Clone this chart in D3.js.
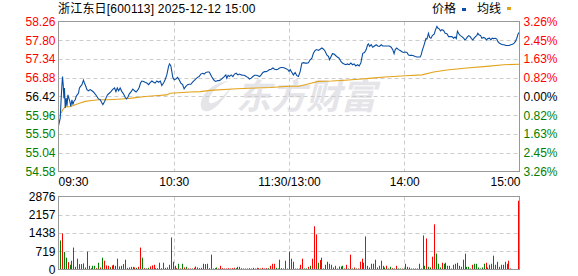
<!DOCTYPE html>
<html><head><meta charset="utf-8">
<script src="https://cdn.jsdelivr.net/npm/d3@7"></script>
<style>
html,body{margin:0;padding:0;background:#fff;}
svg{display:block;font-family:"Liberation Sans",Arial,"Noto Sans CJK SC",sans-serif;font-size:12px;}
</style>
</head><body>
<svg id="c" width="578" height="276"></svg>
<script>
const titleText = "浙江东日[600113] 2025-12-12 15:00";
const legendNames = ["价格", "均线"];
const watermarkText = "东方财富";
const prevClose = 56.42;
const priceTicks = [58.26, 57.80, 57.34, 56.88, 56.42, 55.96, 55.50, 55.04, 54.58];
const pctTicks = ["3.26%", "2.45%", "1.63%", "0.82%", "0.00%", "0.82%", "1.63%", "2.45%", "3.26%"];
const volTicks = [2876, 2157, 1438, 719, 0];
const timeTicks = [0, 60, 120, 180, 240];
const timeLabels = ["09:30", "10:30", "11:30/13:00", "14:00", "15:00"];

// minute offsets from 09:30 (trading minutes) and prices
const priceTimes = [0,0.9,1.4,1.75,2.1,2.45,2.8,3.1,3.5,4,4.4,4.9,5.4,5.9,6.4,7,7.5,8,8.7,9.2,9.7,10.4,10.9,11.5,12.2,13,13.5,14.2,14.8,15.6,16.5,17.4,18.2,19.1,20,20.8,21.7,22.6,23.1,24,24.7,25.5,26.4,27.3,28.1,29.2,29.9,30.6,31.3,32.1,33,33.9,34.7,35.4,36.1,36.8,37.8,38.7,39.6,40.4,41.3,42,42.7,43.4,44.3,45.1,46,46.9,47.7,48.6,49.5,50.3,51.2,52.1,53,53.8,54.7,55.5,56.4,57.3,57.8,58.5,59,59.5,60.2,61.1,62,62.8,63.7,64.6,65.4,66.3,67.2,68,68.9,69.8,70.6,71.5,72.4,73.2,74.1,75,75.9,76.7,77.6,78.5,79.3,80.2,81.1,81.9,82.8,83.7,84.5,85.4,86.3,87.1,87.6,88.3,89,89.9,90.8,91.6,92.5,93.4,94.2,95.1,96,96.8,97.7,98.6,99.4,100.3,101.2,102.1,102.9,103.8,104.7,105.5,106.4,107.3,108.1,109,109.9,110.7,111.6,112.5,113.3,114.2,115.1,115.9,116.8,117.7,118.5,119.4,120,120.6,121.5,122.3,123.2,124.1,124.9,125.8,126.7,127.5,128.4,129.3,130.1,131,131.9,132.7,133.6,134.5,135.4,136.2,137.1,138,138.8,139.7,140.6,141.1,141.8,142.6,143.5,144.4,145.2,146.1,147,147.8,148.7,149.6,150.4,151.3,152.2,153.1,153.9,154.8,155.7,156.5,157.4,157.9,158.4,159.3,160.2,160.9,161.4,161.9,162.8,163.6,164.5,165.4,166.2,167.1,168,168.8,169.7,170.6,171.4,172.3,173.2,174,174.7,175.3,176.1,177,177.9,178.8,179.6,180.5,181.4,182.2,183.1,184,184.8,185.7,186.6,187.4,188.3,188.8,189.5,190.1,190.6,191.3,191.8,192.6,193.2,193.9,194.7,195.6,196.3,197,197.5,198.2,198.9,199.6,200.5,201.3,202.2,203.1,203.9,204.8,205.7,206.5,207.1,207.7,208.4,209.1,210,210.9,211.6,212.3,213,213.6,214.3,215,215.7,216.4,217.1,217.8,218.3,219,219.7,220.4,221.3,222.1,222.8,223.5,224.4,225.1,225.8,226.5,227.4,228.2,228.7,229.4,230.3,231.2,232,232.9,233.8,234.6,235.5,236.4,237.2,237.9,238.6,239.2,240];
const prices = [55.70,55.89,56.38,56.67,56.91,56.71,56.38,56.63,56.14,56.38,56.18,56.46,56.38,56.30,56.18,56.34,56.22,56.30,56.34,56.42,56.46,56.50,56.63,56.67,56.71,56.82,56.75,56.67,56.59,56.56,56.59,56.56,56.53,56.48,56.42,56.36,56.34,56.26,56.22,56.30,56.38,56.46,56.50,56.54,56.59,56.63,56.54,56.63,56.56,56.63,56.54,56.48,56.40,56.36,56.40,56.48,56.54,56.60,56.56,56.53,56.58,56.64,56.75,56.80,56.79,56.77,56.75,56.71,56.76,56.80,56.77,56.75,56.80,56.77,56.80,56.69,56.75,56.83,56.95,57.16,57.22,57.17,57.03,56.89,56.83,56.85,56.89,56.83,56.75,56.71,56.61,56.67,56.71,56.72,56.72,56.77,56.81,56.85,56.89,56.91,56.97,56.99,56.97,57.01,57.02,57.02,56.95,56.87,56.81,56.79,56.81,56.81,56.83,56.87,56.91,56.95,56.87,56.94,56.91,56.95,56.91,56.97,56.99,56.95,56.97,56.95,56.94,56.94,56.91,56.89,56.85,56.87,56.91,56.94,56.94,56.93,56.91,56.95,57.01,57.03,57.03,57.05,57.08,57.09,57.12,57.09,57.08,57.09,57.12,57.13,57.13,57.12,57.10,57.08,57.04,57.08,57.01,56.95,57.01,56.93,56.91,57.03,57.24,57.25,57.24,57.24,57.25,57.32,57.36,57.48,57.55,57.57,57.55,57.58,57.61,57.58,57.53,57.44,57.40,57.32,57.39,57.47,57.46,57.42,57.39,57.36,57.28,57.24,57.22,57.20,57.22,57.20,57.24,57.20,57.22,57.17,57.20,57.17,57.24,57.36,57.48,57.50,57.57,57.69,57.71,57.65,57.69,57.63,57.66,57.69,57.66,57.65,57.69,57.66,57.66,57.66,57.66,57.66,57.63,57.57,57.47,57.57,57.61,57.57,57.55,57.52,57.50,57.51,57.50,57.44,57.43,57.43,57.42,57.40,57.39,57.39,57.39,57.44,57.57,57.65,57.73,57.84,57.83,57.97,57.87,57.85,57.92,57.95,58.06,58.14,58.10,58.08,58.03,58.06,58.04,57.97,57.96,57.89,57.89,57.89,57.85,57.88,57.84,58.02,57.96,57.92,57.89,57.85,57.81,57.84,57.89,57.91,57.89,57.84,57.81,57.85,57.89,57.92,57.97,57.93,57.92,57.85,57.87,57.85,57.81,57.84,57.85,57.81,57.85,57.84,57.85,57.83,57.77,57.73,57.71,57.69,57.69,57.67,57.67,57.67,57.69,57.70,57.73,57.77,57.85,57.95,58.00];

const avgTimes = [1.4,2.1,3.5,6,8.7,11.3,13.9,17.4,20.8,26,33,38.2,45.1,50.3,56.4,58.1,68.6,73.8,79,92.9,103.3,110.2,120,125,128.4,131.9,135.4,142.3,149.2,157.9,163.1,170,180.5,189.2,195.3,202.2,212.6,223,231.7,240];
const avgPrices = [56.01,56.09,56.17,56.17,56.22,56.26,56.30,56.32,56.34,56.34,56.36,56.38,56.42,56.44,56.46,56.50,56.53,56.54,56.57,56.61,56.63,56.64,56.67,56.67,56.71,56.75,56.79,56.80,56.82,56.85,56.87,56.90,56.93,56.95,57.02,57.07,57.12,57.16,57.20,57.21];

// per-minute volume (lots) and direction: "u" up (red), "d" down (green)
const volumes = [1144,1423,692,466,293,186,346,865,106,426,213,213,240,80,705,146,53,146,146,53,266,80,466,346,160,146,93,160,186,146,426,120,146,213,386,66,80,106,106,80,66,106,865,466,53,40,66,120,160,186,53,53,266,53,266,66,80,186,1264,306,146,53,226,40,226,80,106,40,40,40,66,120,80,53,66,226,213,226,53,585,40,53,80,40,146,53,40,40,53,40,53,66,53,106,106,53,40,40,40,53,40,66,40,66,53,40,66,40,53,53,146,226,226,66,40,386,53,40,346,40,705,
426,306,40,40,40,186,426,40,40,106,146,426,1703,1383,266,372,466,40,186,306,226,186,80,146,40,120,120,146,40,186,40,585,40,80,40,40,306,426,266,1303,146,80,226,226,386,80,146,346,146,80,146,40,106,53,40,146,40,40,40,40,226,106,80,40,40,40,40,226,40,1343,146,1224,106,80,505,1782,625,226,80,266,226,266,146,146,40,186,226,266,146,106,386,625,106,106,40,186,226,226,80,40,80,226,266,80,186,226,545,186,306,106,186,186,306,226,346,40,20,20,20,2713];
const volDir = ["d","u","d","d","u","d","d","u","u","u","u","u","u","d","d","u","d","d","d","u","d","u","d","u","u","u","d","u","u","u","d","u","d","u","d","u","d","u","u","u","d","u","u","d","u","d","d","u","u","u","d","u","u","d","d","u","d","u","u","d","d","u","d","u","d","u","d","u","u","d","u","u","u","u","u","u","u","d","d","u","d","d","d","u","u","u","u","u","u","u","u","u","d","u","d","u","u","u","u","u","u","u","d","u","u","u","u","u","u","d","u","u","u","d","d","u","d","u","u","u","d",
"u","d","d","d","d","u","u","d","d","u","d","u","u","u","d","u","u","d","d","u","d","u","u","d","u","d","d","d","u","u","d","u","d","u","d","u","u","u","u","u","d","u","d","d","d","u","u","d","u","d","u","d","d","u","d","u","d","d","u","d","d","u","d","d","d","d","u","u","d","u","d","u","d","d","u","u","d","d","d","u","d","d","d","u","d","u","u","d","d","d","d","u","d","d","d","u","d","d","d","d","d","d","u","d","u","d","u","d","d","d","d","u","u","d","u","u","d","u","d","u","u"];

const RED = "#ff0000", GREEN = "#008000", BLUE = "#0a4ea3", GOLD = "#e2a31b";
const GRID = "#cccccc", FRAME = "#999999";

const svg = d3.select("#c");
const L = 58.5, R = 519.5, T = 21.5, B = 171.5, VT = 196.5, VB = 269.5;

const x = d3.scaleLinear().domain([0, 240]).range([L, R]);
const y = d3.scaleLinear().domain([54.58, 58.26]).range([B, T]);
const xv = d3.scaleLinear().domain([0, 240]).range([L + 1.5, R - 1.5]);
const yv = d3.scaleLinear().domain([0, 2876]).range([VB, VT]);

const colorOf = v => v > prevClose + 1e-9 ? RED : (v < prevClose - 1e-9 ? GREEN : "#000");

// title & legend
svg.append("text").attr("x", 58).attr("y", 13).attr("fill", "#000").attr("letter-spacing", "0.2").text(titleText);
svg.append("text").attr("x", 432).attr("y", 13).attr("fill", "#000").text(legendNames[0]);
svg.append("rect").attr("x", 462).attr("y", 8).attr("width", 4).attr("height", 3).attr("fill", BLUE);
svg.append("text").attr("x", 477).attr("y", 13).attr("fill", "#000").text(legendNames[1]);
svg.append("rect").attr("x", 507).attr("y", 7).attr("width", 4).attr("height", 3).attr("fill", GOLD);

// watermark
const wm = svg.append("g").attr("fill", "#e4e4e9");
wm.append("path").attr("d", "M229 81 C212 82 199 96 201 107 C202 113 210 113 218 105 C224 99 229 92 232 86 C225 95 215 105 210 103 C206 100 214 86 229 81 Z");
wm.append("text").attr("x", 236).attr("y", 109).attr("font-size", 35).attr("font-weight", "bold")
  .attr("font-style", "italic").attr("font-family", "Noto Sans CJK SC, sans-serif").text(watermarkText);

// grids
const gridG = svg.append("g").attr("stroke", GRID).attr("stroke-dasharray", "4,3").attr("fill", "none");
priceTicks.slice(1, -1).forEach(v => gridG.append("line").attr("x1", L).attr("x2", R).attr("y1", Math.round(y(v)) + 0.5).attr("y2", Math.round(y(v)) + 0.5));
volTicks.slice(1, -1).forEach(v => gridG.append("line").attr("x1", L).attr("x2", R).attr("y1", Math.round(yv(v)) + 0.5).attr("y2", Math.round(yv(v)) + 0.5));
timeTicks.slice(1, -1).forEach(t => {
  const xx = Math.round(x(t)) + 0.5;
  gridG.append("line").attr("x1", xx).attr("x2", xx).attr("y1", T).attr("y2", B);
  gridG.append("line").attr("x1", xx).attr("x2", xx).attr("y1", VT).attr("y2", VB);
});

// lines
const avgData = avgTimes.map((t, i) => [t, avgPrices[i]]);
const priceData = priceTimes.map((t, i) => [t, prices[i]]);
const line = d3.line().x(d => x(d[0])).y(d => y(d[1]));
svg.append("path").datum(avgData).attr("d", line).attr("fill", "none").attr("stroke", GOLD).attr("stroke-width", 1.1);
svg.append("path").datum(priceData).attr("d", line).attr("fill", "none").attr("stroke", BLUE).attr("stroke-width", 1.1);

// volume bars
svg.append("g").selectAll("rect").data(volumes).join("rect")
  .attr("x", (d, i) => Math.round(xv(i)))
  .attr("width", 1)
  .attr("y", d => yv(d))
  .attr("height", d => VB - yv(d))
  .attr("fill", (d, i) => volDir[i] === "u" ? RED : GREEN);

// frames
svg.append("rect").attr("x", L).attr("y", T).attr("width", R - L).attr("height", B - T).attr("fill", "none").attr("stroke", FRAME);
svg.append("rect").attr("x", L).attr("y", VT).attr("width", R - L).attr("height", VB - VT).attr("fill", "none").attr("stroke", FRAME);

// axes
const ayL = svg.append("g").attr("transform", `translate(${L},0)`)
  .call(d3.axisLeft(y).tickValues(priceTicks).tickSize(0).tickPadding(3).tickFormat(d3.format(".2f")));
ayL.select(".domain").remove();
ayL.selectAll("text").attr("fill", d => colorOf(d)).style("font-size", "12px");

const ayR = svg.append("g").attr("transform", `translate(${R},0)`)
  .call(d3.axisRight(y).tickValues(priceTicks).tickSize(0).tickPadding(4).tickFormat((d, i) => pctTicks[i]));
ayR.select(".domain").remove();
ayR.selectAll("text").attr("fill", d => colorOf(d)).style("font-size", "12px");

const av = svg.append("g").attr("transform", `translate(${L},0)`)
  .call(d3.axisLeft(yv).tickValues(volTicks).tickSize(0).tickPadding(3).tickFormat(d3.format("d")));
av.select(".domain").remove();
av.selectAll("text").attr("fill", "#000").style("font-size", "12px");

const ax = svg.append("g").attr("transform", `translate(0,${B})`)
  .call(d3.axisBottom(x).tickValues(timeTicks).tickSize(0).tickPadding(6).tickFormat((d, i) => timeLabels[i]));
ax.select(".domain").remove();
ax.selectAll("text").attr("fill", "#000").style("font-size", "12px")
  .attr("text-anchor", (d, i) => i === 0 ? "start" : (i === timeTicks.length - 1 ? "end" : "middle"))
  .attr("dx", (d, i) => i === 0 ? "-0.5" : (i === timeTicks.length - 1 ? "0.5" : "0"));
svg.selectAll(".tick line").remove();
svg.selectAll("g").attr("font-family", null).attr("font-size", null);
</script>
</body></html>
